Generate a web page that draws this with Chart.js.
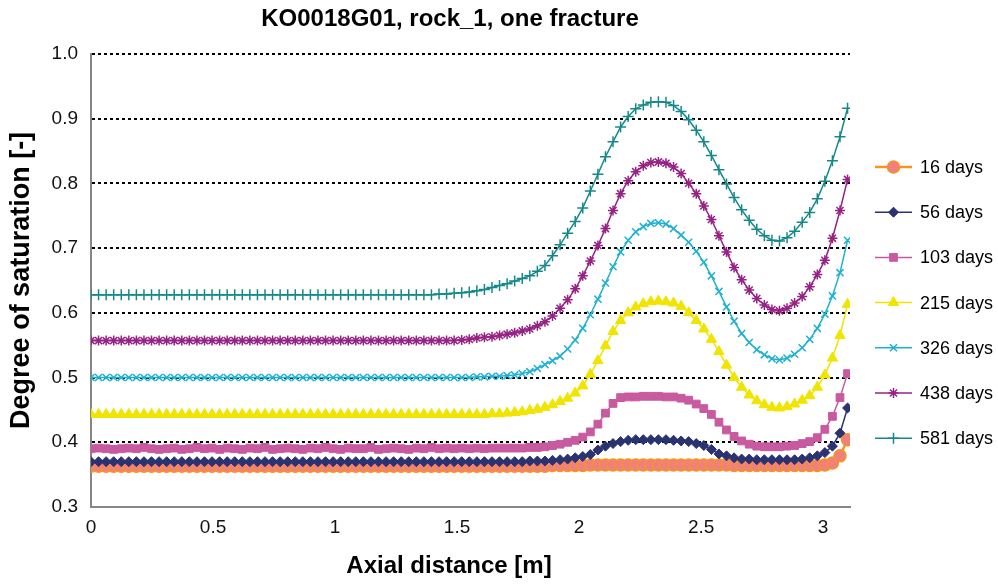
<!DOCTYPE html>
<html>
<head>
<meta charset="utf-8">
<title>KO0018G01, rock_1, one fracture</title>
<script src="https://cdn.jsdelivr.net/npm/chart.js@4.4.1/dist/chart.umd.min.js"></script>
<style>
  html, body { margin: 0; padding: 0; background: #fff; }
  #wrap { width: 998px; height: 586px; }
</style>
</head>
<body>
<div id="wrap"><canvas id="satChart" width="998" height="586"></canvas></div>
<script>
// axial distance of the calculation points [m]
const distance = [
  0, 0.031, 0.062, 0.093, 0.124, 0.155, 0.186, 0.217, 0.248, 0.279,
  0.31, 0.341, 0.372, 0.403, 0.434, 0.465, 0.496, 0.527, 0.558, 0.589,
  0.62, 0.651, 0.682, 0.713, 0.744, 0.775, 0.806, 0.837, 0.868, 0.899,
  0.93, 0.961, 0.992, 1.023, 1.054, 1.085, 1.116, 1.147, 1.178, 1.209,
  1.24, 1.271, 1.302, 1.333, 1.364, 1.395, 1.426, 1.457, 1.488, 1.519,
  1.55, 1.581, 1.612, 1.643, 1.674, 1.705, 1.736, 1.767, 1.798, 1.829,
  1.86, 1.891, 1.922, 1.953, 1.984, 2.015, 2.046, 2.077, 2.108, 2.139,
  2.17, 2.201, 2.232, 2.263, 2.294, 2.325, 2.356, 2.387, 2.418, 2.449,
  2.48, 2.511, 2.542, 2.573, 2.604, 2.635, 2.666, 2.697, 2.728, 2.759,
  2.79, 2.821, 2.852, 2.883, 2.914, 2.945, 2.976, 3.007, 3.038, 3.069,
  3.1
];

// degree of saturation [-] per time
const sat16 = [
  .363, .363, .363, .363, .363, .363, .363, .363, .363, .363,
  .363, .363, .363, .363, .363, .363, .363, .363, .363, .363,
  .363, .363, .363, .363, .363, .363, .363, .363, .363, .363,
  .363, .363, .363, .363, .363, .363, .363, .363, .363, .363,
  .363, .363, .363, .363, .363, .363, .363, .363, .363, .363,
  .363, .363, .363, .363, .363, .363, .363, .363, .363, .363,
  .363, .364, .364, .364, .364, .364, .365, .365, .365, .365,
  .365, .365, .365, .365, .365, .365, .365, .365, .365, .365,
  .365, .365, .365, .365, .365, .364, .364, .364, .364, .364,
  .364, .364, .364, .364, .364, .364, .364, .365, .368, .379,
  .404
];
const sat56 = [
  .370, .370, .370, .370, .370, .370, .370, .370, .370, .370,
  .370, .370, .370, .370, .370, .370, .370, .370, .370, .370,
  .370, .370, .370, .370, .370, .370, .370, .370, .370, .370,
  .370, .370, .370, .370, .370, .370, .370, .370, .370, .370,
  .370, .370, .370, .370, .370, .370, .370, .370, .370, .370,
  .370, .370, .370, .370, .370, .370, .370, .370, .371, .371,
  .371, .372, .373, .374, .376, .378, .381, .388, .394, .398,
  .401, .403, .404, .404, .404, .404, .404, .403, .402, .401,
  .398, .395, .389, .382, .379, .376, .374, .374, .373, .373,
  .373, .373, .373, .373, .374, .376, .379, .384, .394, .414,
  .453
];
const sat103 = [
  .390, .391, .390, .389, .390, .391, .390, .392, .390, .389,
  .390, .391, .389, .390, .392, .390, .391, .389, .391, .390,
  .389, .391, .390, .392, .389, .390, .391, .390, .389, .391,
  .390, .392, .390, .389, .391, .390, .390, .392, .389, .390,
  .391, .390, .389, .391, .390, .392, .390, .391, .390, .391,
  .390, .391, .390, .391, .391, .391, .391, .391, .392, .392,
  .393, .395, .397, .400, .403, .408, .416, .428, .445, .460,
  .469, .470, .470, .471, .471, .471, .470, .470, .468, .465,
  .459, .452, .443, .431, .419, .409, .402, .397, .394, .393,
  .393, .393, .394, .395, .398, .401, .407, .420, .440, .469,
  .506
];
const sat215 = [
  .443, .443, .443, .443, .443, .443, .443, .443, .443, .443,
  .443, .443, .443, .443, .443, .443, .443, .443, .443, .443,
  .443, .443, .443, .443, .443, .443, .443, .443, .443, .443,
  .443, .443, .443, .443, .443, .443, .443, .443, .443, .443,
  .443, .443, .443, .443, .443, .443, .443, .443, .443, .443,
  .443, .443, .443, .444, .444, .445, .446, .447, .449, .451,
  .454, .458, .463, .468, .476, .487, .505, .526, .549, .571,
  .588, .600, .609, .614, .617, .618, .617, .615, .610, .600,
  .588, .575, .559, .540, .519, .500, .485, .473, .464, .458,
  .454, .453, .455, .459, .465, .472, .485, .504, .530, .565,
  .613
];
const sat326 = [
  .500, .500, .500, .500, .500, .500, .500, .500, .500, .500,
  .500, .500, .500, .500, .500, .500, .500, .500, .500, .500,
  .500, .500, .500, .500, .500, .500, .500, .500, .500, .500,
  .500, .500, .500, .500, .500, .500, .500, .500, .500, .500,
  .500, .500, .500, .500, .500, .500, .500, .500, .500, .500,
  .500, .501, .501, .502, .502, .503, .504, .506, .509, .514,
  .520, .526, .533, .544, .558, .576, .597, .621, .646, .671,
  .694, .712, .725, .733, .738, .739, .737, .730, .720, .709,
  .695, .678, .657, .633, .609, .587, .568, .554, .543, .535,
  .529, .527, .530, .536, .546, .559, .576, .598, .626, .662,
  .712
];
const sat438 = [
  .557, .557, .557, .557, .557, .557, .557, .557, .557, .557,
  .557, .557, .557, .557, .557, .557, .557, .557, .557, .557,
  .557, .557, .557, .557, .557, .557, .557, .557, .557, .557,
  .557, .557, .557, .557, .557, .557, .557, .557, .557, .557,
  .557, .557, .557, .557, .557, .557, .557, .557, .557, .558,
  .559, .561, .562, .563, .565, .567, .569, .572, .575, .580,
  .586, .595, .607, .620, .637, .657, .680, .704, .730, .758,
  .784, .804, .818, .827, .832, .833, .831, .825, .815, .800,
  .784, .765, .744, .719, .694, .670, .651, .635, .622, .612,
  .605, .603, .607, .615, .625, .640, .659, .681, .715, .758,
  .806
];
const sat581 = [
  .628, .628, .628, .628, .628, .628, .628, .628, .628, .628,
  .628, .628, .628, .628, .628, .628, .628, .628, .628, .628,
  .628, .628, .628, .628, .628, .628, .628, .628, .628, .628,
  .628, .628, .628, .628, .628, .628, .628, .628, .628, .628,
  .628, .628, .628, .628, .628, .628, .629, .629, .630, .631,
  .632, .634, .636, .639, .642, .645, .649, .653, .657, .664,
  .673, .688, .705, .723, .741, .762, .788, .814, .841, .864,
  .887, .903, .915, .921, .925, .926, .925, .920, .911, .898,
  .882, .864, .843, .821, .799, .778, .759, .743, .729, .719,
  .712, .711, .716, .726, .740, .755, .776, .803, .835, .872,
  .916
];

const seriesLabels = ['16 days', '56 days', '103 days', '215 days', '326 days', '438 days', '581 days'];
const seriesValues = [sat16, sat56, sat103, sat215, sat326, sat438, sat581];
const xTicks = [0, 0.5, 1, 1.5, 2, 2.5, 3];
const yTicks = [0.3, 0.4, 0.5, 0.6, 0.7, 0.8, 0.9, 1.0];

const chartTitle = 'KO0018G01, rock_1, one fracture';
const xTitle = 'Axial distance [m]';
const yTitle = 'Degree of saturation [-]';

const FONT = '"Liberation Sans", Arial, Helvetica, sans-serif';

// marker and line style of each series (Excel look)
const styles = [
  { line: '#F7941D', fill: '#F08080', edge: '#F7941D', shape: 'circle', r: 6, lw: 2.5, pw: 1.5 },
  { line: '#2B3270', fill: '#2B3270', edge: '#2B3270', shape: 'rectRot', r: 5, lw: 1.5, pw: 1 },
  { line: '#C85AA0', fill: '#C85AA0', edge: '#C85AA0', shape: 'rect', r: 5.5, lw: 1.5, pw: 1 },
  { line: '#F0E400', fill: '#F0E400', edge: '#F0E400', shape: 'triangle', r: 6, lw: 1.5, pw: 1 },
  { line: '#1FB1D1', fill: '#1FB1D1', edge: '#1FB1D1', shape: 'crossRot', r: 5, lw: 1.5, pw: 1.5 },
  { line: '#962384', fill: '#962384', edge: '#962384', shape: 'star', r: 5, lw: 1.5, pw: 1.5 },
  { line: '#15898A', fill: '#15898A', edge: '#15898A', shape: 'cross', r: 5.5, lw: 1.5, pw: 1.5 }
];

const datasets = seriesValues.map((vals, i) => ({
  label: seriesLabels[i],
  data: distance.map((x, k) => ({ x: x, y: vals[k] })),
  borderColor: styles[i].line,
  borderWidth: styles[i].lw,
  backgroundColor: styles[i].fill,
  pointStyle: styles[i].shape,
  pointRadius: styles[i].r,
  pointBackgroundColor: styles[i].fill,
  pointBorderColor: styles[i].edge,
  pointBorderWidth: styles[i].pw,
  tension: 0,
  order: seriesValues.length - i // later series on top, like Excel
}));

// axis titles and the legend at the right side
const sideTexts = {
  id: 'sideTexts',
  afterDraw(chart) {
    const ctx = chart.ctx;
    const area = chart.chartArea;
    ctx.save();
    ctx.fillStyle = '#000';
    ctx.textAlign = 'center';
    ctx.textBaseline = 'middle';
    ctx.font = 'bold 24px ' + FONT;
    ctx.fillText(xTitle, 449, 566);
    ctx.save();
    ctx.font = 'bold 27px ' + FONT;
    ctx.translate(22, (area.top + area.bottom) / 2);
    ctx.rotate(-Math.PI / 2);
    ctx.fillText(yTitle, 0, 0);
    ctx.restore();

    ctx.font = '18px ' + FONT;
    ctx.textAlign = 'left';
    chart.data.datasets.forEach((ds, i) => {
      const y = 167 + i * 45.2;
      const x0 = area.right + 25;
      ctx.strokeStyle = styles[i].line;
      ctx.lineWidth = styles[i].lw;
      ctx.beginPath();
      ctx.moveTo(x0, y);
      ctx.lineTo(x0 + 37, y);
      ctx.stroke();
      ctx.fillStyle = styles[i].fill;
      ctx.strokeStyle = styles[i].edge;
      ctx.lineWidth = styles[i].pw;
      Chart.helpers.drawPoint(ctx, { pointStyle: styles[i].shape, radius: styles[i].r, rotation: 0, borderWidth: styles[i].pw }, x0 + 18.5, y);
      ctx.fillStyle = '#000';
      ctx.fillText(ds.label, x0 + 45, y + 1);
    });
    ctx.restore();
  }
};

new Chart(document.getElementById('satChart'), {
  type: 'line',
  data: { datasets: datasets },
  plugins: [sideTexts],
  options: {
    responsive: false,
    animation: false,
    devicePixelRatio: 1,
    layout: { padding: { left: 50, right: 148, top: 0, bottom: 0 } },
    plugins: {
      legend: { display: false },
      tooltip: { enabled: false },
      title: {
        display: true,
        text: chartTitle,
        color: '#000',
        font: { family: FONT, size: 24, weight: 'bold' },
        padding: { top: 5, bottom: 20 }
      }
    },
    scales: {
      x: {
        type: 'linear',
        min: 0,
        max: 3.11,
        afterFit(scale) { scale.height = 79; },
        afterBuildTicks(scale) { scale.ticks = xTicks.map(v => ({ value: v })); },
        grid: { display: false },
        border: { display: true, color: '#868686', width: 2 },
        ticks: {
          color: '#111',
          padding: 1,
          maxRotation: 0,
          font: { family: FONT, size: 19 },
          callback: v => String(v)
        }
      },
      y: {
        min: 0.3,
        max: 1.0,
        afterFit(scale) { scale.width = 41; },
        afterBuildTicks(scale) { scale.ticks = yTicks.map(v => ({ value: v })); },
        grid: {
          drawTicks: false,
          lineWidth: 2,
          color: c => (c.tick && c.tick.value <= 0.3 + 1e-9) ? 'rgba(0,0,0,0)' : '#000'
        },
        border: { display: true, color: '#868686', width: 2, dash: [3, 3] },
        ticks: {
          color: '#111',
          padding: 13,
          font: { family: FONT, size: 19 },
          callback: v => Number(v).toFixed(1)
        }
      }
    }
  }
});
</script>
</body>
</html>
